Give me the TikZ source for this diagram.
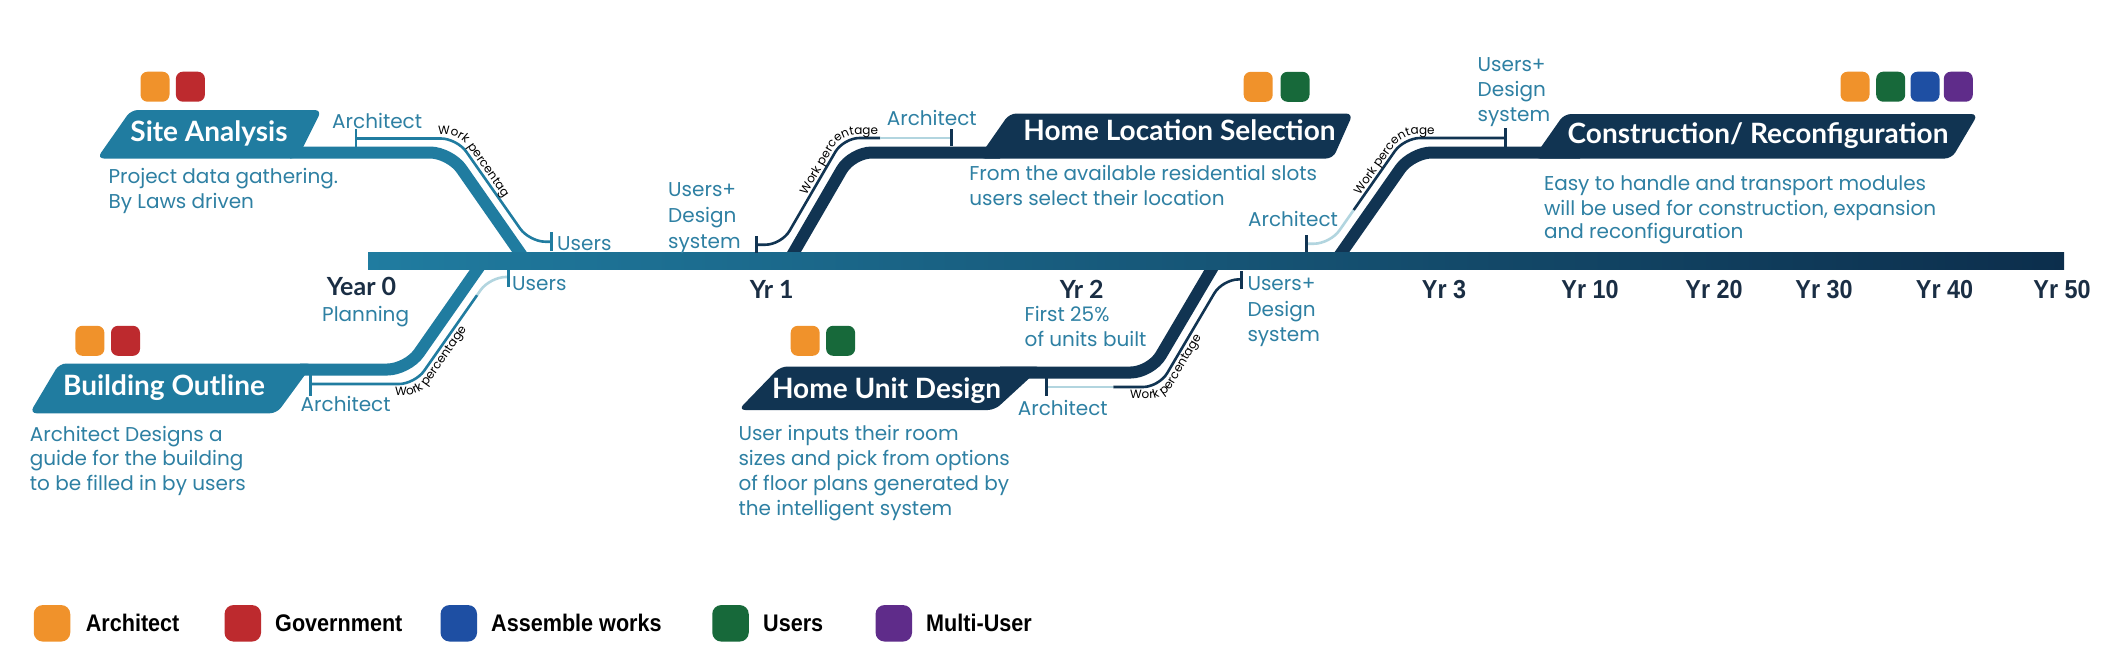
\documentclass[tikz,border=0pt]{standalone}
\usepackage{fontspec}
\setmainfont{Poppins}
\newfontfamily\ttlfont{Lato}
\newfontfamily\nrwfont{Liberation Sans}[FakeStretch=0.9]
\usetikzlibrary{decorations.text}
\definecolor{teal1}{HTML}{207CA0}
\definecolor{navy1}{HTML}{113452}
\definecolor{barR}{HTML}{0C2E4C}
\definecolor{txtteal}{HTML}{2E80A3}
\definecolor{yrnavy}{HTML}{1A2E44}
\definecolor{lblue}{HTML}{B2D5DF}
\definecolor{sqor}{HTML}{F0922B}
\definecolor{sqred}{HTML}{BD2A2E}
\definecolor{sqblue}{HTML}{1E4FA3}
\definecolor{sqgreen}{HTML}{17693A}
\definecolor{sqpurple}{HTML}{5F2C8A}
\newcommand\wpsize{\fontsize{12}{12}\selectfont}
\begin{document}
\begin{tikzpicture}[x=1pt,y=-1pt,
  trunk/.style={line width=12pt, rounded corners=20pt},
  twig/.style={line width=2.6pt, rounded corners=16pt},
  tickmark/.style={line width=2.6pt},
  tagshape/.style={rounded corners=7pt},
  wp/.style={decorate, rounded corners=14pt, decoration={text along path, text align=left, text={|\wpsize|Work percentage}}},
  lbl/.style={text=txtteal, font=\fontsize{20}{25}\selectfont, anchor=base west, inner sep=0pt},
  ttl/.style={text=white, font=\ttlfont\bfseries\fontsize{28}{28}\selectfont, anchor=base, inner sep=0pt},
  yr/.style={text=yrnavy, font=\ttlfont\bfseries\fontsize{25}{25}\selectfont, anchor=base, inner sep=0pt},
  yrn/.style={text=yrnavy, font=\nrwfont\bfseries\fontsize{26}{26}\selectfont, anchor=base, inner sep=0pt},
  sq/.style={rounded corners=7pt, minimum width=29pt, minimum height=30pt, inner sep=0pt},
  legsq/.style={rounded corners=9pt, minimum width=36.5pt, minimum height=36.5pt, inner sep=0pt},
  legtxt/.style={text=black, font=\nrwfont\bfseries\fontsize{24}{24}\selectfont, anchor=base west, inner sep=0pt}
]
\useasboundingbox[fill=white] (0,0) rectangle (2124,667);
% ---------- tags and trunk lines ----------
% Site Analysis
\fill[teal1, tagshape] (97,158.5) -- (131,110) -- (321.7,110) -- (297.4,158.5) -- cycle;
\draw[teal1, trunk] (290,152.5) -- (450,152.5) -- (526.4,262);
% Building Outline
\fill[teal1, tagshape] (29.7,413.3) -- (59.3,363.5) -- (313.3,363.5) -- (276.8,413.3) -- cycle;
\draw[teal1, trunk] (300,369.5) -- (407.4,369.5) -- (482.6,262);
% Home Location Selection
\fill[navy1, tagshape] (978,158.5) -- (1009.4,113.5) -- (1353,113.5) -- (1333,158.5) -- cycle;
\draw[navy1, trunk] (788.2,262) -- (851.7,152.5) -- (1000,152.5);
% Home Unit Design
\fill[navy1, tagshape] (738.3,410) -- (780.4,366.5) -- (1042,366.5) -- (994.7,410) -- cycle;
\draw[navy1, trunk] (1000,372.5) -- (1150.7,372.5) -- (1215.9,262);
% Construction
\fill[navy1, tagshape] (1533,158.5) -- (1564.2,114) -- (1978,114) -- (1951.7,158.5) -- cycle;
\draw[navy1, trunk] (1335,262) -- (1411.7,152.5) -- (1580,152.5);
% ---------- main bar ----------
\shade[left color=teal1, right color=barR] (368,252.5) rectangle (2064,269.5);
% ---------- work percentage lines ----------
\coordinate (saA) at (356,138.5);
\coordinate (saU) at (551.7,241.7);
\draw[teal1, twig] (saA) -- (457,138.5) -- (529.3,241.7) -- (saU);
\draw[teal1, tickmark] (356,129) -- (356,148);
\draw[teal1, tickmark] (551.7,232) -- (551.7,251);
\path[wp] (438,134.5) -- (459.2,134.5) -- (505,200);
%
\coordinate (boA) at (310.4,384);
\coordinate (boM) at (477.2,295);
\coordinate (boU) at (508.3,277);
\draw[teal1, twig] (boA) -- (414.9,384) -- (boM);
\draw[lblue, twig] (boM) -- (489.8,277) -- (boU);
\draw[teal1, tickmark] (310.4,375) -- (310.4,396);
\draw[teal1, tickmark] (508.3,270) -- (508.3,287);
\path[wp] (395,395) -- (420.6,395) -- (480.1,310);
%
\coordinate (hlU) at (756.2,244.7);
\coordinate (hlM) at (880,138);
\coordinate (hlA) at (951.3,138);
\draw[navy1, twig] (hlU) -- (781.5,244.7) -- (843.4,138) -- (hlM);
\draw[lblue, twig] (hlM) -- (hlA);
\draw[navy1, tickmark] (756.2,236) -- (756.2,253);
\draw[navy1, tickmark] (951.3,129) -- (951.3,146);
\path[wp] (806.3,195) -- (841.4,134.5) -- (900,134.5);
%
\coordinate (huA) at (1046.3,387);
\coordinate (huM) at (1113.3,387);
\coordinate (huU) at (1241.5,279.4);
\draw[lblue, twig] (huA) -- (huM);
\draw[navy1, twig] (huM) -- (1159,387) -- (1222.5,279.4) -- (huU);
\draw[navy1, tickmark] (1046.3,378) -- (1046.3,396);
\draw[navy1, tickmark] (1241.5,271) -- (1241.5,289);
\path[wp] (1130,398) -- (1165.3,398) -- (1223,300);
%
\coordinate (crA) at (1306.5,243.7);
\coordinate (crM) at (1353.7,210);
\coordinate (crU) at (1505.5,138);
\draw[lblue, twig] (crA) -- (1330.1,243.7) -- (crM);
\draw[navy1, twig] (crM) -- (1404,138) -- (crU);
\draw[navy1, tickmark] (1306.5,235) -- (1306.5,252);
\draw[navy1, tickmark] (1505.5,128) -- (1505.5,147);
\path[wp] (1359.9,195) -- (1402.2,134.5) -- (1470,134.5);
% ---------- titles ----------
\node[ttl] (tSA) at (209,141.7) {Site Analysis};
\node[ttl] (tBO) at (164,395) {Building Outline};
\node[ttl] (tHL) at (1179.4,140) {Home Location Selection};
\node[ttl] (tHU) at (886.5,398.3) {Home Unit Design};
\node[ttl] (tCR) at (1758,143.3) {Construction/ Reconfiguration};
% ---------- squares ----------
\node[sq, fill=sqor] (sa1) at (155,86.7) {};
\node[sq, fill=sqred] (sa2) at (190.4,86.7) {};
\node[sq, fill=sqor] (bo1) at (89.9,340.8) {};
\node[sq, fill=sqred] (bo2) at (125.5,340.8) {};
\node[sq, fill=sqor] (hl1) at (1258.2,86.8) {};
\node[sq, fill=sqgreen] (hl2) at (1295,86.8) {};
\node[sq, fill=sqor] (hu1) at (805.2,340.8) {};
\node[sq, fill=sqgreen] (hu2) at (840.6,340.8) {};
\node[sq, fill=sqor] (cr1) at (1855,86.7) {};
\node[sq, fill=sqgreen] (cr2) at (1890.7,86.7) {};
\node[sq, fill=sqblue] (cr3) at (1925,86.7) {};
\node[sq, fill=sqpurple] (cr4) at (1958.3,86.7) {};
% ---------- labels ----------
\node[lbl] (saArch) at (332,128.3) {Architect};
\node[lbl] (saUsr) at (557,250) {Users};
\node[lbl] (boUsr) at (512,290) {Users};
\node[lbl] (boArch) at (300.5,411.7) {Architect};
\node[lbl] (hlArch) at (886.6,125) {Architect};
\node[lbl] (hlU1) at (668,196.7) {Users+};
\node[lbl] (hlU2) at (668,222.5) {Design};
\node[lbl] (hlU3) at (668,248.3) {system};
\node[lbl] (huArch) at (1017.6,415) {Architect};
\node[lbl] (huU1) at (1247.3,290) {Users+};
\node[lbl] (huU2) at (1247.3,316) {Design};
\node[lbl] (huU3) at (1247.3,341.7) {system};
\node[lbl] (crU1) at (1477.5,71.7) {Users+};
\node[lbl] (crU2) at (1477.5,96.7) {Design};
\node[lbl] (crU3) at (1477.5,121.7) {system};
\node[lbl] (crArch) at (1247.9,226.7) {Architect};
% ---------- descriptions ----------
\node[lbl] (saD1) at (108.3,183.3) {Project data gathering.};
\node[lbl] (saD2) at (108.3,208.3) {By Laws driven};
\node[lbl] (boD1) at (29.7,441.7) {Architect Designs a};
\node[lbl] (boD2) at (29.7,465) {guide for the building};
\node[lbl] (boD3) at (29.7,490) {to be filled in by users};
\node[lbl] (hlD1) at (969.2,180) {From the available residential slots};
\node[lbl] (hlD2) at (969.2,205) {users select their location};
\node[lbl] (huD1) at (738.3,440) {User inputs their room};
\node[lbl] (huD2) at (738.3,465) {sizes and pick from options};
\node[lbl] (huD3) at (738.3,490) {of floor plans generated by};
\node[lbl] (huD4) at (738.3,515) {the intelligent system};
\node[lbl] (crD1) at (1543.8,190) {Easy to handle and transport modules};
\node[lbl] (crD2) at (1543.8,215) {will be used for construction, expansion};
\node[lbl] (crD3) at (1543.8,238.3) {and reconfiguration};
% ---------- years ----------
\node[yr] (y0) at (361.5,295) {Year 0};
\node[lbl] (y0p) at (322,321.7) {Planning};
\node[yr] (y1) at (771.8,298.3) {Yr 1};
\node[yr] (y2) at (1081.7,298.3) {Yr 2};
\node[lbl] (y2a) at (1024.5,321.7) {First 25\%};
\node[lbl] (y2b) at (1024.5,346.7) {of units built};
\node[yrn] (y3) at (1444,298.3) {Yr 3};
\node[yrn] (y10) at (1590,298.3) {Yr 10};
\node[yrn] (y20) at (1714,298.3) {Yr 20};
\node[yrn] (y30) at (1824,298.3) {Yr 30};
\node[yrn] (y40) at (1944.5,298.3) {Yr 40};
\node[yrn] (y50) at (2062,298.3) {Yr 50};
% ---------- legend ----------
\node[legsq, fill=sqor] (lg1) at (52,623.3) {};
\node[legtxt] (lg1t) at (85.6,631) {Architect};
\node[legsq, fill=sqred] (lg2) at (242.8,623.3) {};
\node[legtxt] (lg2t) at (275,631) {Government};
\node[legsq, fill=sqblue] (lg3) at (458.8,623.3) {};
\node[legtxt] (lg3t) at (491,631) {Assemble works};
\node[legsq, fill=sqgreen] (lg4) at (730.5,623.3) {};
\node[legtxt] (lg4t) at (763,631) {Users};
\node[legsq, fill=sqpurple] (lg5) at (893.8,623.3) {};
\node[legtxt] (lg5t) at (926,631) {Multi-User};
\end{tikzpicture}
\end{document}
